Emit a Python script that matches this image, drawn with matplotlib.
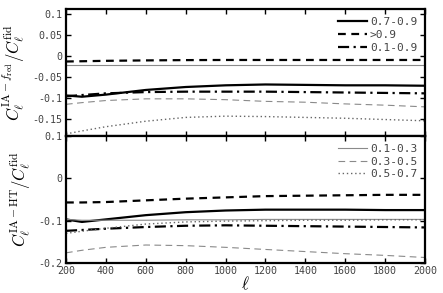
import matplotlib
matplotlib.use("Agg")
import matplotlib.pyplot as plt
import numpy as np

plt.rcParams['mathtext.fontset'] = 'cm'
plt.rcParams['axes.unicode_minus'] = False

# ---- data ----
ell = [200, 280, 400, 600, 800, 1000, 1200, 1400, 1600, 1800, 2000]

# top panel: C^{IA-f_red}/C^fid
top_07_09 = [-0.094, -0.097, -0.092, -0.081, -0.074, -0.070, -0.068, -0.069, -0.070, -0.070, -0.071]
top_gt09  = [-0.0136, -0.0130, -0.0120, -0.0110, -0.0103, -0.0100, -0.0100, -0.0100, -0.0100, -0.0100, -0.0100]
top_01_09 = [-0.096, -0.093, -0.089, -0.086, -0.085, -0.085, -0.085, -0.086, -0.087, -0.088, -0.089]
top_01_03 = [-0.023, -0.023, -0.023, -0.023, -0.023, -0.023, -0.023, -0.023, -0.023, -0.023, -0.023]
top_03_05 = [-0.115, -0.111, -0.106, -0.102, -0.102, -0.104, -0.108, -0.110, -0.114, -0.117, -0.121]
top_05_07 = [-0.185, -0.178, -0.168, -0.155, -0.146, -0.143, -0.144, -0.146, -0.148, -0.151, -0.154]

# bottom panel: C^{IA-HT}/C^fid
bot_07_09 = [-0.097, -0.103, -0.097, -0.087, -0.080, -0.076, -0.074, -0.074, -0.074, -0.075, -0.075]
bot_gt09  = [-0.057, -0.057, -0.056, -0.052, -0.048, -0.045, -0.042, -0.041, -0.040, -0.039, -0.039]
bot_01_09 = [-0.124, -0.122, -0.119, -0.115, -0.112, -0.111, -0.112, -0.113, -0.114, -0.115, -0.116]
bot_01_03 = [-0.097, -0.099, -0.099, -0.099, -0.098, -0.098, -0.097, -0.097, -0.097, -0.097, -0.097]
bot_03_05 = [-0.176, -0.170, -0.163, -0.1575, -0.159, -0.163, -0.168, -0.173, -0.178, -0.182, -0.187]
bot_05_07 = [-0.130, -0.125, -0.118, -0.108, -0.103, -0.101, -0.100, -0.099, -0.099, -0.098, -0.098]

labels = ['0.7-0.9', '>0.9', '0.1-0.9', '0.1-0.3', '0.3-0.5', '0.5-0.7']
xticks = [200, 400, 600, 800, 1000, 1200, 1400, 1600, 1800, 2000]
top_yticks = [0.1, 0.05, 0, -0.05, -0.1, -0.15]
top_yticklabels = ['0.1', '0.05', '0', '-0.05', '-0.1', '-0.15']
bot_yticks = [0.1, 0, -0.1, -0.2]
bot_yticklabels = ['0.1', '0', '-0.1', '-0.2']

styles = [
    dict(color='black', lw=1.6, ls='-'),
    dict(color='black', lw=1.6, ls=(0, (3.5, 2.5))),
    dict(color='black', lw=1.6, ls=(0, (5, 2, 1, 2))),
    dict(color='#8a8a8a', lw=0.8, ls='-'),
    dict(color='#8a8a8a', lw=0.8, ls=(0, (6, 4))),
    dict(color='#666666', lw=1.0, ls=(0, (1, 2))),
]

fig = plt.figure(figsize=(4.43, 2.93), dpi=100)
L, R = 66/443, 425/443
ax1 = fig.add_axes([L, 1-136/293, R-L, (136-9.3)/293])
ax2 = fig.add_axes([L, 1-263/293, R-L, (263-136)/293])

tickfont = dict(family='DejaVu Sans Mono', size=7.2)

for ax, series in ((ax1, [top_07_09, top_gt09, top_01_09, top_01_03, top_03_05, top_05_07]),
                   (ax2, [bot_07_09, bot_gt09, bot_01_09, bot_01_03, bot_03_05, bot_05_07])):
    handles = []
    for s, st, lab in zip(series, styles, labels):
        h, = ax.plot(ell, s, label=lab, **st)
        handles.append(h)
    ax.set_xlim(200, 2000)
    ax.set_xticks(xticks)
    ax.tick_params(direction='in', top=True, right=True, length=3.5, width=1.0,
                   pad=2.5, labelcolor='#444444')
    for sp in ax.spines.values():
        sp.set_linewidth(1.6)
    ax.handles_ = handles

ax1.set_ylim(-0.19, 0.11)
ax1.set_yticks(top_yticks)
ax1.set_yticklabels(top_yticklabels, **tickfont)
ax1.tick_params(labelbottom=False)

ax2.set_ylim(-0.2, 0.1)
ax2.set_yticks(bot_yticks)
ax2.set_yticklabels(bot_yticklabels, **tickfont)
ax2.set_xticklabels([str(x) for x in xticks], **tickfont)

legkw = dict(loc='upper right', frameon=False, prop=dict(family='DejaVu Sans Mono', size=8),
             handlelength=2.6, handletextpad=0.3, labelspacing=0.25, borderaxespad=0.3)
leg1 = ax1.legend(ax1.handles_[:3], labels[:3], **legkw)
leg2 = ax2.legend(ax2.handles_[3:], labels[3:], **legkw)
for leg in (leg1, leg2):
    for t in leg.get_texts():
        t.set_color('#444444')

ax1.set_ylabel(r'$C_\ell^{{\rm IA}-f_{\rm red}}/C_\ell^{\rm fid}$', fontsize=12, labelpad=4)
ax2.set_ylabel(r'$C_\ell^{{\rm IA}-{\rm HT}}/C_\ell^{\rm fid}$', fontsize=12, labelpad=4)
ax2.set_xlabel(r'$\ell$', fontsize=12, labelpad=-1)

fig.savefig('out.png', dpi=100)
